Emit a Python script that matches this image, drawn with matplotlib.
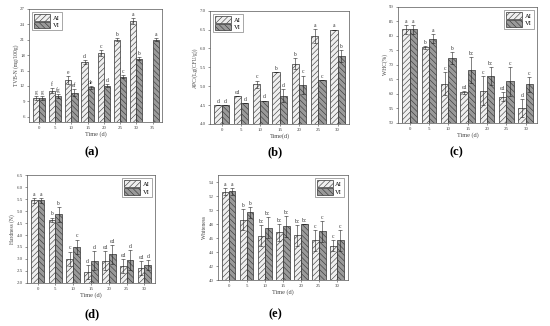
import numpy as np
import matplotlib.pyplot as plt

plt.rcParams['font.family'] = ['Liberation Serif', 'DejaVu Serif']
plt.rcParams['hatch.linewidth'] = 0.4
plt.rcParams['hatch.color'] = '#555555'

# 数据
days = [0, 5, 10, 15, 20, 25, 30]
days_a = [0, 5, 10, 15, 20, 25, 30, 35]

tvbn_ai = [9.6, 11.1, 13.2, 16.6, 18.4, 21.0, 24.6, np.nan]
tvbn_vi = [9.6, 10.1, 10.7, 11.7, 12.0, 13.8, 17.3, 21.0]
tvbn_ai_err = [0.4, 0.5, 0.8, 0.4, 0.6, 0.3, 0.6, 0]
tvbn_vi_err = [0.4, 0.4, 0.7, 0.3, 0.3, 0.3, 0.3, 0.3]
tvbn_ai_lab = ['g', 'f', 'e', 'd', 'c', 'b', 'a', '']
tvbn_vi_lab = ['g', 'fg', 'ef', 'de', 'd', 'c', 'b', 'a']

apc_ai = [4.50, 4.73, 5.05, 5.38, 5.60, 6.33, 6.50]
apc_vi = [4.50, 4.55, 4.62, 4.75, 5.03, 5.17, 5.80]
apc_ai_err = [0.0, 0.0, 0.1, 0.0, 0.15, 0.18, 0.0]
apc_vi_err = [0.0, 0.0, 0.0, 0.17, 0.25, 0.0, 0.15]
apc_ai_lab = ['d', 'cd', 'c', 'b', 'b', 'a', 'a']
apc_vi_lab = ['d', 'd', 'd', 'd', 'c', 'c', 'b']

whc_ai = [82.3, 76.0, 63.5, 60.5, 61.0, 59.0, 55.2]
whc_vi = [82.3, 79.0, 72.3, 68.3, 66.2, 64.3, 63.3]
whc_ai_err = [1.5, 0.5, 4.0, 0.5, 5.0, 1.5, 3.0]
whc_vi_err = [1.5, 1.5, 2.0, 4.5, 3.0, 5.0, 2.5]
whc_ai_lab = ['a', 'b', 'c', 'cd', 'c', 'cd', 'd']
whc_vi_lab = ['a', 'a', 'b', 'bc', 'bc', 'c', 'c']

hard_ai = [5.45, 4.63, 3.01, 2.46, 2.92, 2.70, 2.63]
hard_vi = [5.45, 4.86, 3.51, 2.92, 3.20, 2.96, 2.75]
hard_ai_err = [0.1, 0.1, 0.3, 0.3, 0.4, 0.3, 0.3]
hard_vi_err = [0.1, 0.3, 0.3, 0.4, 0.4, 0.4, 0.2]
hard_ai_lab = ['a', 'b', 'c', 'd', 'cd', 'cd', 'cd']
hard_vi_lab = ['a', 'b', 'c', 'd', 'cd', 'd', 'd']

white_ai = [52.65, 48.6, 46.3, 46.8, 46.4, 45.7, 44.9]
white_vi = [52.7, 49.7, 47.5, 47.7, 48.0, 47.0, 45.7]
white_ai_err = [0.5, 1.5, 1.5, 1.2, 1.5, 1.5, 0.8]
white_vi_err = [0.5, 0.8, 1.5, 1.5, 0.0, 1.5, 1.5]
white_ai_lab = ['a', 'b', 'bc', 'bc', 'bc', 'c', 'c']
white_vi_lab = ['a', 'b', 'bc', 'bc', 'bc', 'c', 'c']


def draw_panel(ax, xt, ai, vi, ai_err, vi_err, ai_lab, vi_lab,
               ylim, yticks, ylabel, fmt, legend_loc, xlabel='Time (d)'):
    x = np.arange(len(xt))
    w = 0.38
    ai_arr = np.array(ai, dtype=float)
    vi_arr = np.array(vi, dtype=float)
    mask = ~np.isnan(ai_arr)
    ax.bar(x[mask] - w / 2, ai_arr[mask], w, color='#efefef', edgecolor='#333333',
           linewidth=0.5, hatch='//////', label='AI')
    ax.bar(x + w / 2, vi_arr, w, color='#9a9a9a', edgecolor='#333333',
           linewidth=0.5, hatch='\\\\\\\\\\\\', label='VI')
    ax.errorbar(x[mask] - w / 2, ai_arr[mask], yerr=np.array(ai_err)[mask], fmt='none',
                ecolor='#222222', elinewidth=0.4, capsize=1.2, capthick=0.4)
    ax.errorbar(x + w / 2, vi_arr, yerr=vi_err, fmt='none',
                ecolor='#222222', elinewidth=0.4, capsize=1.2, capthick=0.4)
    dy = (ylim[1] - ylim[0]) * 0.01
    for i in range(len(xt)):
        if mask[i] and ai_lab[i]:
            ax.text(x[i] - w / 2, ai_arr[i] + ai_err[i] + dy, ai_lab[i],
                    ha='center', va='bottom', fontsize=4, color='#333333')
        if vi_lab[i]:
            ax.text(x[i] + w / 2, vi_arr[i] + vi_err[i] + dy, vi_lab[i],
                    ha='center', va='bottom', fontsize=4, color='#333333')
    ax.set_xticks(x)
    ax.set_xticklabels([str(t) for t in xt])
    ax.set_xlim(-0.6, len(xt) - 0.4)
    ax.set_ylim(*ylim)
    ax.set_yticks(yticks)
    ax.set_yticklabels([fmt.format(t) for t in yticks])
    ax.tick_params(labelsize=3.5, length=1.5, width=0.4, pad=1.5, colors='#444444')
    ax.set_ylabel(ylabel, fontsize=4, labelpad=1, color='#444444')
    ax.set_xlabel(xlabel, fontsize=4.5, labelpad=1, color='#444444')
    for s in ax.spines.values():
        s.set_linewidth(0.5)
        s.set_color('#555555')
    ax.legend(loc=legend_loc, fontsize=4.8, handlelength=2.4, handleheight=1.2,
              frameon=True, fancybox=False, edgecolor='#666666', borderpad=0.3,
              labelspacing=0.1, handletextpad=0.4, framealpha=1).get_frame().set_linewidth(0.4)


fig = plt.figure(figsize=(5.5, 3.26), dpi=100)

ax_a = fig.add_axes([0.053, 0.626, 0.242, 0.347])
draw_panel(ax_a, days_a, tvbn_ai, tvbn_vi, tvbn_ai_err, tvbn_vi_err, tvbn_ai_lab, tvbn_vi_lab,
           (5, 27), [6, 9, 12, 15, 18, 21, 24, 27], 'TVB-N (mg/100g)', '{:.0f}', 'upper left',
           xlabel='Time (d)')

ax_b = fig.add_axes([0.382, 0.620, 0.253, 0.347])
draw_panel(ax_b, days, apc_ai, apc_vi, apc_ai_err, apc_vi_err, apc_ai_lab, apc_vi_lab,
           (4.0, 7.0), [4.0, 4.5, 5.0, 5.5, 6.0, 6.5, 7.0], 'APC/(Lg(CFU/g))', '{:.1f}', 'upper left',
           xlabel='Time(d)')

ax_c = fig.add_axes([0.724, 0.623, 0.253, 0.356])
draw_panel(ax_c, days, whc_ai, whc_vi, whc_ai_err, whc_vi_err, whc_ai_lab, whc_vi_lab,
           (50, 90), [50, 55, 60, 65, 70, 75, 80, 85, 90], 'WHC(%)', '{:.0f}', 'upper right')

ax_d = fig.add_axes([0.049, 0.132, 0.233, 0.331])
draw_panel(ax_d, days, hard_ai, hard_vi, hard_ai_err, hard_vi_err, hard_ai_lab, hard_vi_lab,
           (2.0, 6.5), [2.0, 2.5, 3.0, 3.5, 4.0, 4.5, 5.0, 5.5, 6.0, 6.5], 'Hardness (N)', '{:.1f}',
           'upper right')

ax_e = fig.add_axes([0.396, 0.141, 0.236, 0.322])
draw_panel(ax_e, days, white_ai, white_vi, white_ai_err, white_vi_err, white_ai_lab, white_vi_lab,
           (40, 55), [40, 42, 44, 46, 48, 50, 52, 54], 'Whiteness', '{:.0f}', 'upper right')

# 子图标号
for lab, xx, yy in [('(a)', 0.167, 0.534), ('(b)', 0.5, 0.534), ('(c)', 0.829, 0.534),
                    ('(d)', 0.167, 0.037), ('(e)', 0.5, 0.037)]:
    fig.text(xx, yy, lab, ha='center', va='center', fontsize=9, fontweight='bold')

fig.savefig('out.png', dpi=100)
